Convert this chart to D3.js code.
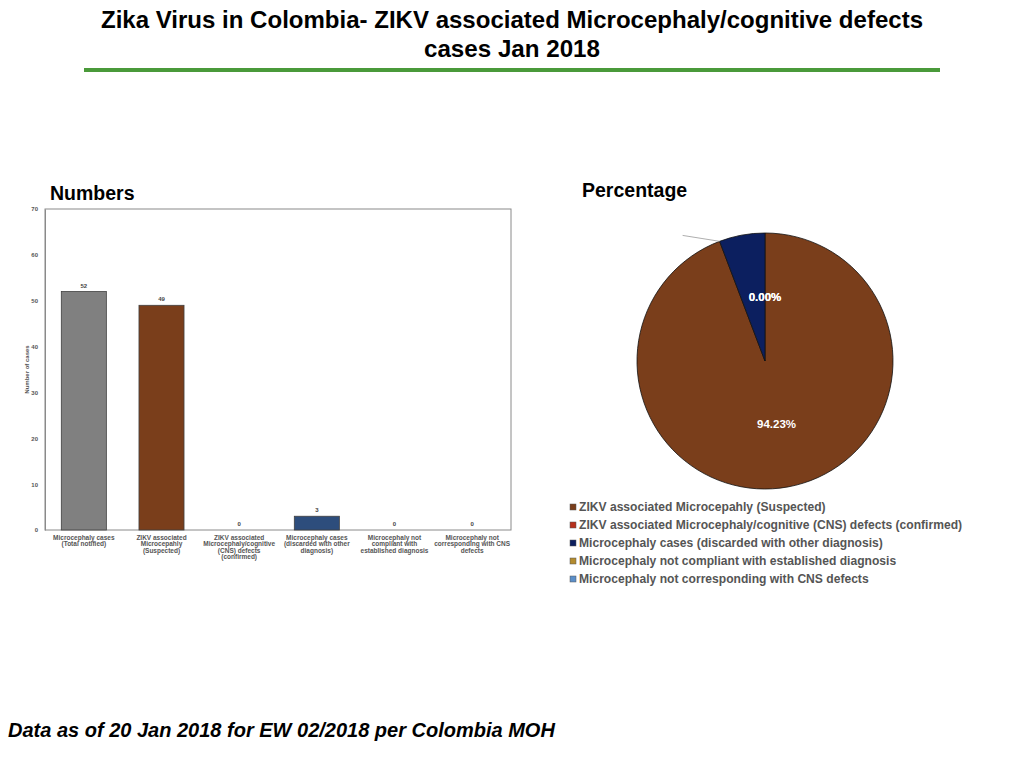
<!DOCTYPE html>
<html>
<head>
<meta charset="utf-8">
<script src="https://cdn.jsdelivr.net/npm/d3@7"></script>
<style>
  body { margin: 0; background: #fff; }
  svg { display: block; font-family: 'Liberation Sans', Arial, sans-serif; }
</style>
</head>
<body>
<svg id="chart" width="1024" height="768"></svg>
<script>
const barCategories = [
  ['Microcephaly cases', '(Total notified)'],
  ['ZIKV associated', 'Microcepahly', '(Suspected)'],
  ['ZIKV associated', 'Microcephaly/cognitive', '(CNS) defects', '(confirmed)'],
  ['Microcephaly cases', '(discarded with other', 'diagnosis)'],
  ['Microcephaly not', 'compliant with', 'established diagnosis'],
  ['Microcephaly not', 'corresponding with CNS', 'defects']
]
const barValues = [52, 49, 0, 3, 0, 0]
const barColors = ['#808080', '#7a3e1b', '#b7301c', '#2d4d7c', '#b38b2e', '#5b8fc9']
const yTicks = [0, 10, 20, 30, 40, 50, 60, 70]

const pieLabels = [
  'ZIKV associated Microcepahly (Suspected)',
  'ZIKV associated Microcephaly/cognitive (CNS) defects (confirmed)',
  'Microcephaly cases (discarded with other diagnosis)',
  'Microcephaly not compliant with established diagnosis',
  'Microcephaly not corresponding with CNS defects'
]
const pieValues = [49, 0, 3, 0, 0]
const pieColors = ['#7a3e1b', '#b7301c', '#0c1f5f', '#b38b2e', '#5b8fc9']

const svg = d3.select('#chart')

// title
const title = svg.append('text')
  .attr('x', 512).attr('text-anchor', 'middle')
  .attr('font-size', 24).attr('font-weight', 'bold').attr('fill', '#000')
title.append('tspan').attr('x', 512).attr('y', 28)
  .attr('textLength', 822).attr('lengthAdjust', 'spacingAndGlyphs')
  .text('Zika Virus in Colombia- ZIKV associated Microcephaly/cognitive defects')
title.append('tspan').attr('x', 512).attr('y', 57)
  .attr('textLength', 176).attr('lengthAdjust', 'spacingAndGlyphs')
  .text('cases Jan 2018')
svg.append('rect').attr('x', 84).attr('y', 68).attr('width', 856).attr('height', 4).attr('fill', '#4a9a3a')

svg.append('text').attr('x', 50).attr('y', 200)
  .attr('font-size', 19.5).attr('font-weight', 'bold').text('Numbers')
svg.append('text').attr('x', 582).attr('y', 197)
  .attr('font-size', 19.5).attr('font-weight', 'bold').text('Percentage')

svg.append('text').attr('x', 8).attr('y', 737)
  .attr('font-size', 20).attr('font-weight', 'bold').attr('font-style', 'italic')
  .text('Data as of 20 Jan 2018 for EW 02/2018 per Colombia MOH')

// bar chart
const plot = { left: 45, right: 511, top: 209, bottom: 530 }
const x = d3.scaleBand().domain(d3.range(barValues.length))
  .range([plot.left, plot.right]).paddingInner(0.42).paddingOuter(0.21)
const y = d3.scaleLinear().domain([0, 70]).range([plot.bottom, plot.top])

const bar = svg.append('g')
bar.append('rect')
  .attr('x', plot.left).attr('y', plot.top)
  .attr('width', plot.right - plot.left).attr('height', plot.bottom - plot.top)
  .attr('fill', 'none').attr('stroke', '#8a8a8a').attr('stroke-width', 1)

const yAxis = bar.append('g')
  .attr('transform', `translate(${plot.left},0)`)
  .call(d3.axisLeft(y).tickValues(yTicks).tickSize(0).tickPadding(7))
yAxis.select('.domain').attr('stroke', '#8a8a8a')
yAxis.selectAll('text').attr('font-size', 6).attr('font-weight', 'bold').attr('fill', '#555')
  .attr('font-family', "'Liberation Sans', Arial, sans-serif")

bar.append('text')
  .attr('transform', `translate(29,${(plot.top + plot.bottom) / 2}) rotate(-90)`)
  .attr('text-anchor', 'middle').attr('font-size', 6).attr('font-weight', 'bold').attr('fill', '#555')
  .text('Number of cases')

bar.selectAll('rect.bar').data(barValues).join('rect')
  .attr('class', 'bar')
  .attr('x', (d, i) => x(i)).attr('width', x.bandwidth())
  .attr('y', d => y(d)).attr('height', d => y(0) - y(d))
  .attr('fill', (d, i) => barColors[i])
  .attr('stroke', '#404040').attr('stroke-width', d => d > 0 ? 0.8 : 0)

bar.selectAll('text.val').data(barValues).join('text')
  .attr('class', 'val')
  .attr('x', (d, i) => x(i) + x.bandwidth() / 2).attr('y', d => y(d) - 4)
  .attr('text-anchor', 'middle').attr('font-size', 6).attr('font-weight', 'bold').attr('fill', '#444')
  .text(d => d)

const cat = bar.selectAll('text.cat').data(barCategories).join('text')
  .attr('class', 'cat')
  .attr('text-anchor', 'middle').attr('font-size', 6.5).attr('font-weight', 'bold').attr('fill', '#555')
cat.each(function (lines, i) {
  d3.select(this).selectAll('tspan').data(lines).join('tspan')
    .attr('x', x(i) + x.bandwidth() / 2)
    .attr('y', (l, j) => plot.bottom + 9.5 + j * 6.5)
    .text(l => l)
})

// pie chart
const cx = 765, cy = 361, r = 128
const total = d3.sum(pieValues)
const arcs = d3.pie().sort(null)(pieValues)
const arc = d3.arc().innerRadius(0).outerRadius(r)
const pie = svg.append('g').attr('transform', `translate(${cx},${cy})`)

pie.selectAll('path').data(arcs.filter(a => a.value > 0)).join('path')
  .attr('d', arc)
  .attr('fill', a => pieColors[a.index])
  .attr('stroke', '#111').attr('stroke-width', 0.8)

// label for the zero "confirmed" slice was pulled outside with a leader line
const confirmed = arcs[1]
const leadIn = d3.pointRadial(confirmed.startAngle, r)
const leadOut = d3.pointRadial(confirmed.startAngle - 0.05, r + 8)
pie.append('line')
  .attr('x1', leadIn[0]).attr('y1', leadIn[1])
  .attr('x2', leadIn[0] - 37).attr('y2', leadOut[1] - 1)
  .attr('stroke', '#999').attr('stroke-width', 0.8)

const inside = arcs.filter(a => a.index === 0 || a.index >= 3)
pie.selectAll('text.pct').data(inside).join('text')
  .attr('class', 'pct')
  .attr('transform', a => {
    const p = d3.pointRadial((a.startAngle + a.endAngle) / 2, r * 0.5)
    return `translate(${p[0]},${p[1]})`
  })
  .attr('text-anchor', 'middle').attr('dy', '0.35em')
  .attr('font-size', 11.5).attr('font-weight', 'bold').attr('fill', '#fff')
  .text(a => (a.value / total * 100).toFixed(2) + '%')

// legend
const legend = svg.append('g').attr('transform', 'translate(570,507)')
const item = legend.selectAll('g').data(pieLabels).join('g')
  .attr('transform', (d, i) => `translate(0,${i * 18})`)
item.append('rect')
  .attr('x', 0).attr('y', -3).attr('width', 6).attr('height', 6)
  .attr('fill', (d, i) => pieColors[i]).attr('stroke', '#555').attr('stroke-width', 0.5)
item.append('text')
  .attr('x', 9).attr('y', 0).attr('dy', '0.35em')
  .attr('font-size', 12.1).attr('font-weight', 'bold').attr('fill', '#555')
  .text(d => d)
</script>
</body>
</html>
